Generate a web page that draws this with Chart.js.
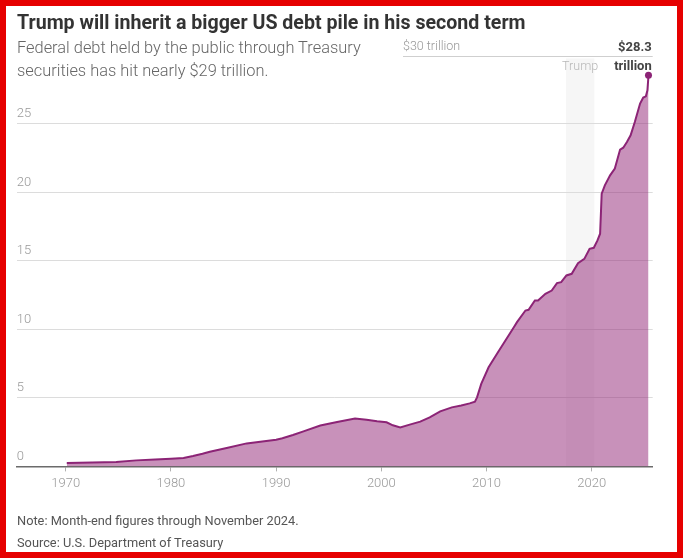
<!DOCTYPE html>
<html>
<head>
<meta charset="utf-8">
<script src="https://cdn.jsdelivr.net/npm/chart.js@4.4.1/dist/chart.umd.min.js"></script>
<style>
  html, body { margin: 0; padding: 0; background: #fff; }
  #wrap { position: relative; width: 683px; height: 558px; overflow: hidden; font-family: Roboto, sans-serif; }
  #chart { position: absolute; left: 0; top: 0; }
  .txt { position: absolute; left: 17px; white-space: nowrap; }
  #title { top: 11px; font-size: 19.6px; line-height: 24px; font-weight: 700; color: #333; }
  #sub { top: 36px; font-size: 16.4px; line-height: 23px; font-weight: 300; color: #666; }
  #note { top: 510px; font-size: 12.8px; line-height: 22px; color: #555; }
  #frame { position: absolute; left: 0; top: 0; width: 683px; height: 558px; box-sizing: border-box; border: 6px solid #e60000; pointer-events: none; }
</style>
</head>
<body>
<div id="wrap">
  <canvas id="chart" width="683" height="558"></canvas>
  <div class="txt" id="title">Trump will inherit a bigger US debt pile in his second term</div>
  <div class="txt" id="sub">Federal debt held by the public through Treasury<br>securities has hit nearly $29 trillion.</div>
  <div class="txt" id="note">Note: Month-end figures through November 2024.<br>Source: U.S. Department of Treasury</div>
  <div id="frame"></div>
</div>
<script>
// debt held by the public, trillions of dollars
const years = [
  1970.1, 1972.5, 1974.8, 1976.7, 1978.5, 1980.0, 1981.2, 1982.1, 1983.0, 1983.7,
  1985.3, 1987.2, 1988.5, 1990.0, 1990.6, 1991.6, 1992.6, 1994.2, 1995.8, 1997.5,
  1998.6, 1999.6, 2000.5, 2001.1, 2001.8, 2002.7, 2003.7, 2004.6, 2005.6, 2006.7,
  2007.6, 2008.4, 2008.9, 2009.1, 2009.5, 2010.2, 2011.0, 2011.8, 2012.6, 2012.9,
  2013.7, 2014.0, 2014.6, 2014.9, 2015.6, 2016.2, 2016.7, 2017.1, 2017.6, 2018.1,
  2018.7, 2019.3, 2019.8, 2020.2, 2020.55, 2020.8, 2020.95, 2021.25, 2021.75, 2022.2,
  2022.7, 2023.0, 2023.35, 2023.7, 2024.1, 2024.6, 2024.9, 2025.15, 2025.3, 2025.4
];
const debt = [
  0.25, 0.28, 0.32, 0.44, 0.5, 0.56, 0.62, 0.76, 0.92, 1.07,
  1.34, 1.68, 1.8, 1.95, 2.05, 2.29, 2.56, 2.98, 3.24, 3.49,
  3.41, 3.29, 3.22, 3.0, 2.85, 3.05, 3.27, 3.58, 4.02, 4.31,
  4.44, 4.6, 4.72, 5.04, 6.02, 7.24, 8.22, 9.19, 10.16, 10.53,
  11.38, 11.43, 12.11, 12.11, 12.6, 12.84, 13.38, 13.45, 13.94, 14.06,
  14.84, 15.15, 15.89, 15.96, 16.5, 16.99, 19.91, 20.52, 21.25, 21.74,
  23.13, 23.27, 23.68, 24.17, 25.15, 26.49, 26.93, 27.02, 27.46, 28.55
];
const xTicks = [1970, 1980, 1990, 2000, 2010, 2020];
const yTicks = [0, 5, 10, 15, 20, 25, 30];
const trumpTerm = [2017.55, 2020.25];
const endLabel = ['$28.3', 'trillion'];

const purple = '#8c2476';

// grey band for Trump's first term, under the grid and the area
const bandPlugin = {
  id: 'band',
  beforeDraw(chart) {
    const {ctx, chartArea, scales: {x, y}} = chart;
    const x0 = x.getPixelForValue(trumpTerm[0]);
    const x1 = x.getPixelForValue(trumpTerm[1]);
    const top = y.getPixelForValue(30) + 3;
    ctx.save();
    ctx.fillStyle = '#f6f6f6';
    ctx.fillRect(x0, top, x1 - x0, chartArea.bottom - top);
    ctx.restore();
  }
};

// top gridline, unit label and end labels
const notesPlugin = {
  id: 'notes',
  afterDraw(chart) {
    const {ctx, chartArea, scales: {x, y}} = chart;
    const y30 = Math.round(y.getPixelForValue(30)) + 0.5;
    ctx.save();
    ctx.strokeStyle = '#cfcfcf';
    ctx.lineWidth = 1;
    ctx.beginPath();
    ctx.moveTo(403, y30);
    ctx.lineTo(chartArea.right, y30);
    ctx.stroke();

    ctx.textBaseline = 'middle';
    ctx.font = '300 12.5px Roboto';
    ctx.fillStyle = '#999';
    ctx.textAlign = 'left';
    ctx.fillText('$30 trillion', 403, y30 - 10);

    ctx.fillStyle = '#b8b8b8';
    ctx.textAlign = 'center';
    ctx.fillText('Trump', (x.getPixelForValue(trumpTerm[0]) + x.getPixelForValue(trumpTerm[1])) / 2, y30 + 10);

    ctx.font = 'bold 13px Roboto';
    ctx.fillStyle = '#444';
    ctx.textAlign = 'right';
    ctx.fillText(endLabel[0], chartArea.right - 1, y30 - 9);
    ctx.fillText(endLabel[1], chartArea.right - 1, y30 + 10);
    ctx.restore();
  }
};

Chart.defaults.font.family = 'Roboto';

const config = {
  type: 'line',
  data: {
    datasets: [{
      data: years.map((yr, i) => ({x: yr, y: debt[i]})),
      fill: 'origin',
      backgroundColor: 'rgba(146, 36, 118, 0.5)',
      borderColor: purple,
      borderWidth: 2,
      tension: 0,
      pointRadius: ctx => ctx.dataIndex === years.length - 1 ? 3.5 : 0,
      pointBackgroundColor: purple,
      pointBorderWidth: 0
    }]
  },
  options: {
    responsive: false,
    animation: false,
    events: [],
    layout: {padding: {left: 16.7, right: 30.3, top: 55.5, bottom: 61}},
    plugins: {legend: {display: false}, tooltip: {enabled: false}},
    scales: {
      x: {
        type: 'linear',
        min: 1965.34,
        max: 2025.8,
        z: 1,
        afterBuildTicks: axis => { axis.ticks = xTicks.map(v => ({value: v})); },
        ticks: {
          callback: v => String(v),
          color: '#999',
          font: {size: 13, weight: '300'},
          padding: 5,
          maxRotation: 0
        },
        grid: {drawOnChartArea: false, drawTicks: true, tickLength: 5, color: '#b0b0b0'},
        border: {display: true, color: '#6b6b6b', width: 1.5}
      },
      y: {
        min: 0,
        max: 30,
        afterBuildTicks: axis => { axis.ticks = yTicks.map(v => ({value: v})); },
        ticks: {
          mirror: true,
          padding: 0,
          labelOffset: -10,
          color: '#999',
          font: {size: 13, weight: '300'},
          callback: v => v === 30 ? '' : String(v)
        },
        grid: {
          drawTicks: false,
          color: ctx => (ctx.tick && (ctx.tick.value === 0 || ctx.tick.value === 30)) ? 'rgba(0,0,0,0)' : '#dcdcdc'
        },
        border: {display: false}
      }
    }
  },
  plugins: [bandPlugin, notesPlugin]
};

const debtChart = new Chart(document.getElementById('chart'), config);
</script>
</body>
</html>
